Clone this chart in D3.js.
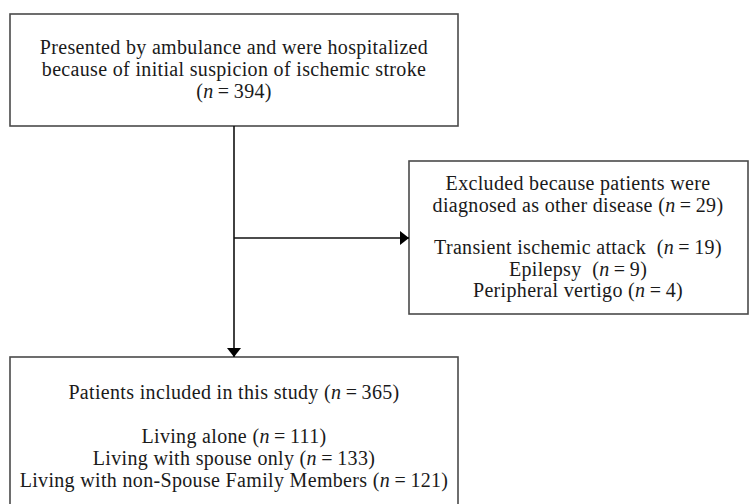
<!DOCTYPE html>
<html>
<head>
<meta charset="utf-8">
<script src="https://cdn.jsdelivr.net/npm/d3@7"></script>
<style>
  html, body { margin: 0; padding: 0; background: #fff; }
  svg { display: block; }
  text { font-family: "Liberation Serif", "DejaVu Serif", serif; fill: #1a1a1a; white-space: pre; }
</style>
</head>
<body>
<svg id="chart" width="750" height="504"></svg>
<script>
// ---- data ----
const presentedText = ["Presented by ambulance and were hospitalized", "because of initial suspicion of ischemic stroke"];
const presentedCount = 394;
const excludedText = ["Excluded because patients were", "diagnosed as other disease"];
const excludedCount = 29;
const excludedCategories = ["Transient ischemic attack ", "Epilepsy ", "Peripheral vertigo"];
const excludedCounts = [19, 9, 4];
const includedText = "Patients included in this study";
const includedCount = 365;
const groupCategories = ["Living alone", "Living with spouse only", "Living with non-Spouse Family Members"];
const groupCounts = [111, 133, 121];

// ---- layout ----
const svg = d3.select("#chart");

const boxes = [
  {id: "top",   x0: 10,  y0: 14,  x1: 458, y1: 126},
  {id: "right", x0: 409, y0: 161, x1: 748, y1: 314},
  {id: "bot",   x0: 10,  y0: 357, x1: 458, y1: 512}
];

const defs = svg.append("defs");
defs.append("marker").attr("id", "arrow")
  .attr("viewBox", "0 0 9 14").attr("refX", 9).attr("refY", 7)
  .attr("markerWidth", 9).attr("markerHeight", 14)
  .attr("markerUnits", "userSpaceOnUse")
  .attr("orient", "auto")
  .append("path").attr("d", "M0,0 L9,7 L0,14 Z").attr("fill", "#000");

svg.selectAll("rect.box").data(boxes).join("rect")
  .attr("class", "box")
  .attr("x", d => d.x0).attr("y", d => d.y0)
  .attr("width", d => d.x1 - d.x0).attr("height", d => d.y1 - d.y0)
  .attr("fill", "#fff").attr("stroke", "#4a4a4a").attr("stroke-width", 1.6);

const cx = 234;
svg.append("line").attr("x1", cx).attr("y1", 126).attr("x2", cx).attr("y2", 357)
  .attr("stroke", "#111").attr("stroke-width", 1.6).attr("marker-end", "url(#arrow)");
svg.append("line").attr("x1", cx).attr("y1", 238).attr("x2", 409).attr("y2", 238)
  .attr("stroke", "#111").attr("stroke-width", 1.6).attr("marker-end", "url(#arrow)");

function line(px, py, segs) {
  const t = svg.append("text").attr("x", px).attr("y", py).attr("text-anchor", "middle")
    .attr("class", "lbl");
  segs.forEach(s => t.append("tspan").text(s.t).style("font-style", s.it ? "italic" : "normal"));
  return t;
}
const nSeg = (pre, n) => [{t: pre + "("}, {t: "n", it: true}, {t: "\u2009=\u2009" + n + ")"}];

const lines = [];
lines.push(line(cx, 54, [{t: presentedText[0]}]));
lines.push(line(cx, 76, [{t: presentedText[1]}]));
lines.push(line(cx, 98, nSeg("", presentedCount)));

const rx = 578;
lines.push(line(rx, 190, [{t: excludedText[0]}]));
lines.push(line(rx, 212, nSeg(excludedText[1] + " ", excludedCount)));
excludedCategories.forEach((c, i) => lines.push(line(rx, 254 + i * 21.5, nSeg(c + " ", excludedCounts[i]))));

lines.push(line(cx, 399, nSeg(includedText + " ", includedCount)));
groupCategories.forEach((c, i) => lines.push(line(cx, 443 + i * 22, nSeg(c + " ", groupCounts[i]))));

const fs = 20;
svg.selectAll("text.lbl").style("font-size", fs + "px");
const w0 = lines[0].node().getComputedTextLength();
const target = 388;
const ls = (target - w0) / (presentedText[0].length - 1);
svg.selectAll("text.lbl").style("letter-spacing", ls + "px");
</script>
</body>
</html>
